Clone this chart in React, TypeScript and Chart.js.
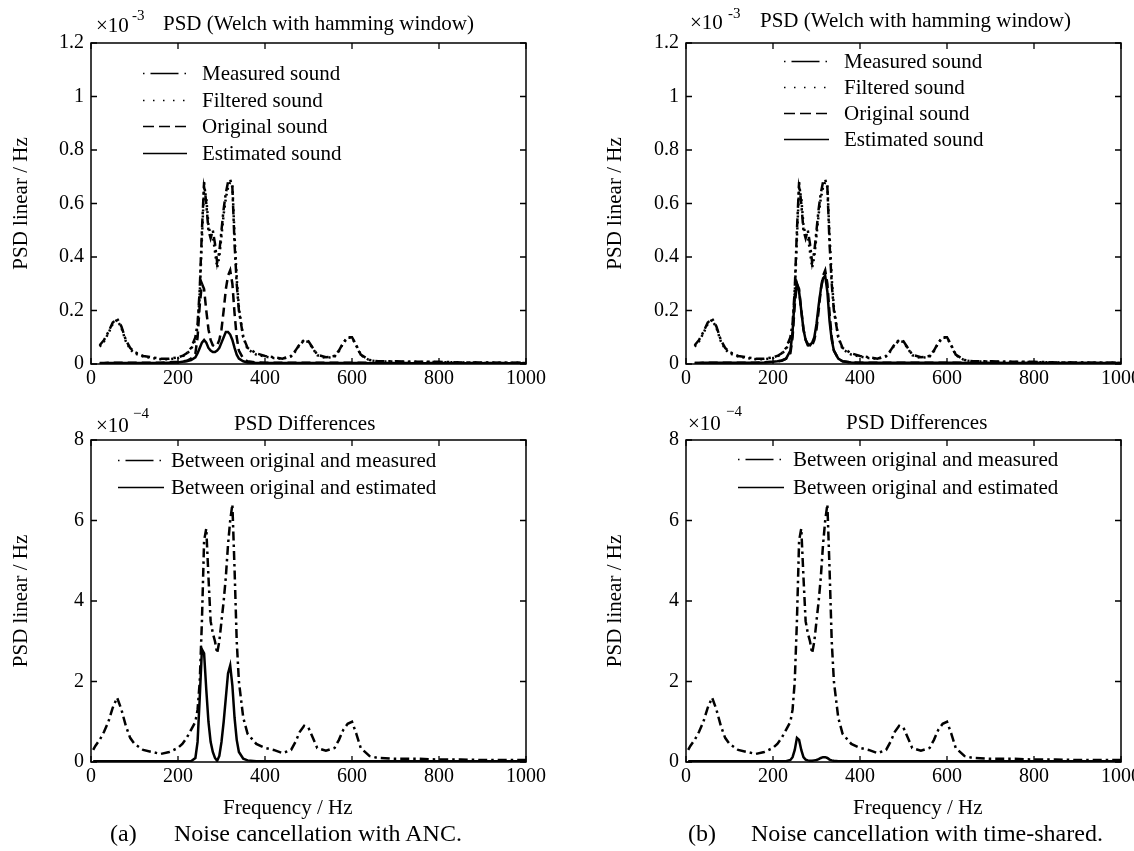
import React, { useEffect, useRef } from "react";
import { Chart, registerables } from "chart.js";

Chart.register(...registerables);

const SERIF = '"Liberation Serif", "Times New Roman", Times, serif';

// ---------------- data ----------------
const freqHz = [5, 10, 20, 30, 40, 50, 60, 70, 80, 90,
  100, 120, 140, 160, 180, 200, 210, 220, 230, 240,
  245, 250, 255, 260, 265, 270, 275, 280, 285, 290,
  295, 300, 305, 310, 315, 320, 325, 330, 335, 340,
  350, 360, 380, 400, 420, 440, 460, 470, 480, 490,
  500, 510, 520, 540, 560, 570, 580, 590, 600, 610,
  620, 640, 660, 700, 750, 800, 850, 900, 950, 1000];

// PSD (x 1e-3)
const measuredPsd = [null, null, 0.07, 0.09, 0.12, 0.155, 0.17, 0.14, 0.09, 0.06,
  0.045, 0.03, 0.025, 0.02, 0.02, 0.025, 0.03, 0.04, 0.06, 0.1,
  0.15, 0.28, 0.5, 0.68, 0.6, 0.5, 0.47, 0.5, 0.45, 0.38,
  0.42, 0.5, 0.58, 0.64, 0.68, 0.69, 0.66, 0.45, 0.3, 0.2,
  0.1, 0.06, 0.04, 0.03, 0.025, 0.02, 0.03, 0.05, 0.075, 0.09,
  0.085, 0.06, 0.035, 0.025, 0.03, 0.05, 0.08, 0.1, 0.1, 0.07,
  0.035, 0.015, 0.01, 0.01, 0.008, 0.008, 0.006, 0.006, 0.005, 0.005];

const filteredPsd = [null, null, 0.065, 0.085, 0.115, 0.15, 0.165, 0.135, 0.085, 0.055,
  0.04, 0.028, 0.022, 0.018, 0.018, 0.022, 0.028, 0.038, 0.055, 0.09,
  0.14, 0.26, 0.47, 0.66, 0.62, 0.52, 0.48, 0.48, 0.42, 0.36,
  0.4, 0.48, 0.56, 0.62, 0.66, 0.68, 0.67, 0.48, 0.32, 0.21,
  0.1, 0.055, 0.035, 0.028, 0.022, 0.02, 0.028, 0.048, 0.072, 0.088,
  0.082, 0.058, 0.033, 0.022, 0.028, 0.048, 0.078, 0.098, 0.098, 0.068,
  0.033, 0.014, 0.01, 0.009, 0.008, 0.007, 0.006, 0.005, 0.005, 0.004];

const originalPsd = [null, null, 0.004, 0.004, 0.005, 0.005, 0.005, 0.005, 0.005, 0.005,
  0.005, 0.005, 0.005, 0.005, 0.006, 0.008, 0.01, 0.012, 0.02, 0.04,
  0.1, 0.22, 0.3, 0.28, 0.2, 0.13, 0.09, 0.07, 0.065, 0.07,
  0.09, 0.13, 0.2, 0.28, 0.33, 0.35, 0.3, 0.19, 0.1, 0.05,
  0.02, 0.01, 0.006, 0.005, 0.005, 0.005, 0.005, 0.005, 0.005, 0.005,
  0.005, 0.005, 0.005, 0.005, 0.005, 0.005, 0.005, 0.005, 0.005, 0.005,
  0.005, 0.004, 0.004, 0.004, 0.004, 0.004, 0.004, 0.004, 0.004, 0.004];

const estimatedAncPsd = [null, null, 0.003, 0.003, 0.004, 0.004, 0.004, 0.004, 0.004, 0.004,
  0.004, 0.004, 0.004, 0.004, 0.005, 0.006, 0.008, 0.01, 0.015, 0.025,
  0.04, 0.06, 0.08, 0.09, 0.08, 0.06, 0.05, 0.045, 0.045, 0.05,
  0.06, 0.08, 0.1, 0.12, 0.12, 0.11, 0.09, 0.06, 0.035, 0.02,
  0.01, 0.006, 0.004, 0.004, 0.004, 0.004, 0.004, 0.004, 0.004, 0.004,
  0.004, 0.004, 0.004, 0.004, 0.004, 0.004, 0.004, 0.004, 0.004, 0.004,
  0.004, 0.003, 0.003, 0.003, 0.003, 0.003, 0.003, 0.003, 0.003, 0.003];

const estimatedTsPsd = [null, null, 0.004, 0.004, 0.005, 0.005, 0.005, 0.005, 0.005, 0.005,
  0.005, 0.005, 0.005, 0.005, 0.006, 0.008, 0.01, 0.013, 0.02, 0.05,
  0.12, 0.25, 0.3, 0.27, 0.2, 0.13, 0.09, 0.075, 0.07, 0.08,
  0.1, 0.15, 0.22, 0.28, 0.32, 0.33, 0.27, 0.16, 0.09, 0.05,
  0.02, 0.01, 0.006, 0.005, 0.005, 0.005, 0.005, 0.005, 0.005, 0.005,
  0.005, 0.005, 0.005, 0.005, 0.005, 0.005, 0.005, 0.005, 0.005, 0.005,
  0.005, 0.004, 0.004, 0.004, 0.004, 0.004, 0.004, 0.004, 0.004, 0.004];

// PSD differences (x 1e-4)
const diffMeasured = [0.3, 0.4, 0.55, 0.75, 1.0, 1.35, 1.6, 1.3, 0.9, 0.6,
  0.45, 0.3, 0.25, 0.2, 0.25, 0.35, 0.45, 0.6, 0.8, 1.0,
  1.3, 2.0, 3.5, 5.5, 5.8, 4.6, 3.5, 3.2, 3.0, 2.7,
  3.0, 3.5, 4.0, 4.6, 5.4, 6.0, 6.4, 4.8, 3.0, 2.0,
  1.1, 0.7, 0.45, 0.35, 0.3, 0.22, 0.3, 0.5, 0.75, 0.9,
  0.85, 0.6, 0.35, 0.28, 0.35, 0.55, 0.8, 0.95, 1.0, 0.7,
  0.35, 0.15, 0.1, 0.08, 0.08, 0.06, 0.06, 0.05, 0.05, 0.05];

const diffEstimatedAnc = [0.02, 0.02, 0.02, 0.02, 0.02, 0.02, 0.02, 0.02, 0.02, 0.02,
  0.02, 0.02, 0.02, 0.02, 0.02, 0.02, 0.02, 0.02, 0.02, 0.1,
  0.5, 1.6, 2.8, 2.7, 1.8, 1.0, 0.5, 0.25, 0.1, 0.03,
  0.15, 0.5, 1.0, 1.6, 2.2, 2.4, 1.9, 1.1, 0.55, 0.25,
  0.08, 0.04, 0.02, 0.02, 0.02, 0.02, 0.02, 0.02, 0.02, 0.02,
  0.02, 0.02, 0.02, 0.02, 0.02, 0.02, 0.02, 0.02, 0.02, 0.02,
  0.02, 0.02, 0.02, 0.02, 0.02, 0.02, 0.02, 0.02, 0.02, 0.02];

const diffEstimatedTs = [0.02, 0.02, 0.02, 0.02, 0.02, 0.02, 0.02, 0.02, 0.02, 0.02,
  0.02, 0.02, 0.02, 0.02, 0.02, 0.02, 0.02, 0.02, 0.02, 0.05,
  0.12, 0.3, 0.6, 0.55, 0.3, 0.12, 0.06, 0.04, 0.03, 0.03,
  0.04, 0.05, 0.07, 0.1, 0.12, 0.12, 0.1, 0.06, 0.04, 0.03,
  0.02, 0.02, 0.02, 0.02, 0.02, 0.02, 0.02, 0.02, 0.02, 0.02,
  0.02, 0.02, 0.02, 0.02, 0.02, 0.02, 0.02, 0.02, 0.02, 0.02,
  0.02, 0.02, 0.02, 0.02, 0.02, 0.02, 0.02, 0.02, 0.02, 0.02];

const xTickLabels = ["0", "200", "400", "600", "800", "1000"];
const psdTickLabels = ["0", "0.2", "0.4", "0.6", "0.8", "1", "1.2"];
const diffTickLabels = ["0", "2", "4", "6", "8"];

// ---------------- styles ----------------
const DASH_DOT = [9, 4, 2.5, 4];
const DOTTED = [2, 4];
const DASHED = [9, 5];
const SOLID: number[] = [];

const LEG_DASH_DOT = [1.5, 6, 28, 6, 1.5, 60];
const LEG_DOTTED = [1.5, 8.5];
const LEG_DASHED = [11, 5];
const LEG_SOLID: number[] = [];

function labelFor(list: string[], v: number) {
  const hit = list.find((l) => Math.abs(Number(l) - v) < 1e-6);
  return hit === undefined ? "" : hit;
}

const matlabBox = {
  id: "matlabBox",
  afterDatasetsDraw(chart: any) {
    const { ctx, chartArea: a, scales } = chart;
    const x = scales.x;
    const y = scales.y;
    ctx.save();
    ctx.strokeStyle = "#000";
    ctx.setLineDash([]);
    ctx.lineWidth = 1.5;
    ctx.strokeRect(a.left, a.top, a.right - a.left, a.bottom - a.top);
    const L = 6;
    ctx.lineWidth = 1.3;
    ctx.beginPath();
    for (const t of x.ticks) {
      const p = x.getPixelForValue(t.value);
      ctx.moveTo(p, a.bottom);
      ctx.lineTo(p, a.bottom - L);
      ctx.moveTo(p, a.top);
      ctx.lineTo(p, a.top + L);
    }
    for (const t of y.ticks) {
      const p = y.getPixelForValue(t.value);
      ctx.moveTo(a.left, p);
      ctx.lineTo(a.left + L, p);
      ctx.moveTo(a.right, p);
      ctx.lineTo(a.right - L, p);
    }
    ctx.stroke();
    ctx.restore();
  },
};

const inLegend = {
  id: "inLegend",
  afterDraw(chart: any, _args: any, opts: any) {
    const { ctx, chartArea: a } = chart;
    const dsets = chart.data.datasets;
    ctx.save();
    ctx.font = `21px ${SERIF}`;
    ctx.fillStyle = "#000";
    ctx.strokeStyle = "#000";
    ctx.textBaseline = "middle";
    ctx.textAlign = "left";
    ctx.lineWidth = 1.4;
    dsets.forEach((d: any, i: number) => {
      const y = Math.round(a.top + opts.rowTop + i * opts.rowGap) + 0.5;
      const x0 = a.left + opts.lineX;
      ctx.setLineDash(d.legendDash);
      ctx.beginPath();
      ctx.moveTo(x0, y);
      ctx.lineTo(x0 + opts.lineLen, y);
      ctx.stroke();
      ctx.setLineDash([]);
      ctx.fillText(d.label, a.left + opts.textX, y + 1);
    });
    ctx.restore();
  },
};

type Series = { label: string; values: (number | null)[]; dash: number[]; legendDash: number[] };

type PanelSpec = {
  left: number; top: number; w: number; h: number;
  yAxisW: number; xAxisH: number;
  padTop: number; padRight: number; padBottom: number;
  yMax: number; yStep: number; yTicks: string[];
  yTitlePad: number;
  legend: { lineX: number; lineLen: number; textX: number; rowTop: number; rowGap: number };
  series: Series[];
};

function buildConfig(p: PanelSpec): any {
  return {
    type: "line",
    data: {
      datasets: p.series.map((s) => ({
        label: s.label,
        data: freqHz.map((f, i) => ({ x: f, y: s.values[i] })),
        borderColor: "#000",
        borderWidth: 2.5,
        borderDash: s.dash,
        legendDash: s.legendDash,
        pointRadius: 0,
        fill: false,
        tension: 0,
        spanGaps: false,
      })),
    },
    options: {
      animation: false,
      responsive: false,
      devicePixelRatio: 1,
      events: [],
      layout: { padding: { left: 0, top: p.padTop, right: p.padRight, bottom: p.padBottom } },
      plugins: {
        legend: { display: false },
        tooltip: { enabled: false },
        inLegend: p.legend,
      },
      scales: {
        x: {
          type: "linear",
          min: 0,
          max: 1000,
          grid: { display: false, drawTicks: false },
          border: { display: false },
          ticks: {
            stepSize: 200,
            padding: 3,
            color: "#000",
            font: { family: SERIF, size: 20 },
            maxRotation: 0,
            autoSkip: false,
            callback: (v: number) => labelFor(xTickLabels, v),
          },
          afterFit: (s: any) => {
            s.height = p.xAxisH;
            s.paddingLeft = 0;
            s.paddingRight = 0;
          },
        },
        y: {
          type: "linear",
          min: 0,
          max: p.yMax,
          grid: { display: false, drawTicks: false },
          border: { display: false },
          ticks: {
            stepSize: p.yStep,
            padding: 7,
            color: "#000",
            font: { family: SERIF, size: 20 },
            autoSkip: false,
            callback: (v: number) => labelFor(p.yTicks, v),
          },
          title: {
            display: true,
            text: "PSD linear / Hz",
            color: "#000",
            font: { family: SERIF, size: 21 },
            padding: { top: p.yTitlePad, bottom: 0 },
          },
          afterFit: (s: any) => {
            s.width = p.yAxisW;
            s.paddingTop = 0;
            s.paddingBottom = 0;
          },
        },
      },
    },
    plugins: [matlabBox, inLegend],
  };
}

function Panel({ spec }: { spec: PanelSpec }) {
  const ref = useRef<HTMLCanvasElement>(null);
  useEffect(() => {
    const chart = new Chart(ref.current as HTMLCanvasElement, buildConfig(spec));
    return () => chart.destroy();
  }, []);
  return (
    <canvas
      ref={ref}
      width={spec.w}
      height={spec.h}
      style={{ position: "absolute", left: spec.left, top: spec.top, width: spec.w, height: spec.h }}
    />
  );
}

function Txt({ x, y, size, children }: { x: number; y: number; size: number; children: React.ReactNode }) {
  return (
    <div
      style={{
        position: "absolute",
        left: x,
        top: y - size / 2,
        fontSize: size,
        lineHeight: `${size}px`,
        fontFamily: SERIF,
        whiteSpace: "nowrap",
        color: "#000",
      }}
    >
      {children}
    </div>
  );
}

const psdSeriesAnc: Series[] = [
  { label: "Measured sound", values: measuredPsd, dash: DASH_DOT, legendDash: LEG_DASH_DOT },
  { label: "Filtered sound", values: filteredPsd, dash: DOTTED, legendDash: LEG_DOTTED },
  { label: "Original sound", values: originalPsd, dash: DASHED, legendDash: LEG_DASHED },
  { label: "Estimated sound", values: estimatedAncPsd, dash: SOLID, legendDash: LEG_SOLID },
];
const psdSeriesTs: Series[] = [
  { label: "Measured sound", values: measuredPsd, dash: DASH_DOT, legendDash: LEG_DASH_DOT },
  { label: "Filtered sound", values: filteredPsd, dash: DOTTED, legendDash: LEG_DOTTED },
  { label: "Original sound", values: originalPsd, dash: DASHED, legendDash: LEG_DASHED },
  { label: "Estimated sound", values: estimatedTsPsd, dash: SOLID, legendDash: LEG_SOLID },
];
const diffSeriesAnc: Series[] = [
  { label: "Between original and measured", values: diffMeasured, dash: DASH_DOT, legendDash: LEG_DASH_DOT },
  { label: "Between original and estimated", values: diffEstimatedAnc, dash: SOLID, legendDash: LEG_SOLID },
];
const diffSeriesTs: Series[] = [
  { label: "Between original and measured", values: diffMeasured, dash: DASH_DOT, legendDash: LEG_DASH_DOT },
  { label: "Between original and estimated", values: diffEstimatedTs, dash: SOLID, legendDash: LEG_SOLID },
];

const panels: PanelSpec[] = [
  {
    left: 0, top: 0, w: 567, h: 400, yAxisW: 91, xAxisH: 36, padTop: 43, padRight: 41, padBottom: 0,
    yMax: 1.2, yStep: 0.2, yTicks: psdTickLabels, yTitlePad: 8.4,
    legend: { lineX: 52, lineLen: 44, textX: 111, rowTop: 30, rowGap: 26.7 },
    series: psdSeriesAnc,
  },
  {
    left: 567, top: 0, w: 567, h: 400, yAxisW: 119, xAxisH: 36, padTop: 43, padRight: 13, padBottom: 0,
    yMax: 1.2, yStep: 0.2, yTicks: psdTickLabels, yTitlePad: 35.4,
    legend: { lineX: 98, lineLen: 45, textX: 158, rowTop: 18, rowGap: 26 },
    series: psdSeriesTs,
  },
  {
    left: 0, top: 400, w: 567, h: 451, yAxisW: 91, xAxisH: 60, padTop: 40, padRight: 41, padBottom: 29,
    yMax: 8, yStep: 2, yTicks: diffTickLabels, yTitlePad: 8.4,
    legend: { lineX: 27, lineLen: 46, textX: 80, rowTop: 20, rowGap: 27 },
    series: diffSeriesAnc,
  },
  {
    left: 567, top: 400, w: 567, h: 451, yAxisW: 119, xAxisH: 60, padTop: 40, padRight: 13, padBottom: 29,
    yMax: 8, yStep: 2, yTicks: diffTickLabels, yTitlePad: 35.4,
    legend: { lineX: 52, lineLen: 46, textX: 107, rowTop: 19, rowGap: 28 },
    series: diffSeriesTs,
  },
];

export default function App() {
  return (
    <div
      style={{
        position: "absolute",
        left: 0,
        top: 0,
        width: 1134,
        height: 851,
        overflow: "hidden",
        background: "#fff",
      }}
    >
      {panels.map((p, i) => (
        <Panel key={i} spec={p} />
      ))}

      <Txt x={96} y={25} size={21}>×10</Txt>
      <Txt x={132} y={15} size={15}>-3</Txt>
      <Txt x={163} y={23} size={21}>PSD (Welch with hamming window)</Txt>

      <Txt x={690} y={22} size={21}>×10</Txt>
      <Txt x={728} y={13} size={15}>-3</Txt>
      <Txt x={760} y={20} size={21}>PSD (Welch with hamming window)</Txt>

      <Txt x={96} y={425} size={21}>×10</Txt>
      <Txt x={133} y={413} size={15}>−4</Txt>
      <Txt x={234} y={423} size={21}>PSD Differences</Txt>

      <Txt x={688} y={423} size={21}>×10</Txt>
      <Txt x={726} y={411} size={15}>−4</Txt>
      <Txt x={846} y={422} size={21}>PSD Differences</Txt>

      <Txt x={223} y={807} size={21}>Frequency / Hz</Txt>
      <Txt x={853} y={807} size={21}>Frequency / Hz</Txt>

      <Txt x={110} y={833} size={24}>(a)</Txt>
      <Txt x={174} y={833} size={24}>Noise cancellation with ANC.</Txt>
      <Txt x={688} y={833} size={24}>(b)</Txt>
      <Txt x={751} y={833} size={24}>Noise cancellation with time-shared.</Txt>
    </div>
  );
}
